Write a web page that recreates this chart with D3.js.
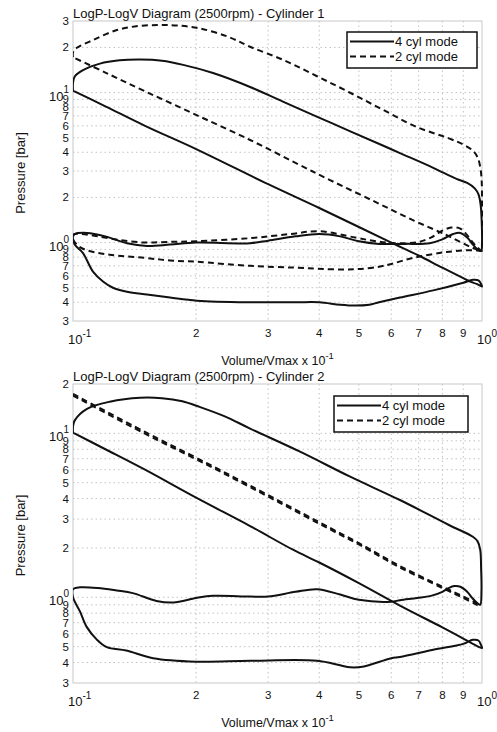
<!DOCTYPE html>
<html>
<head>
<meta charset="utf-8">
<title>LogP-LogV Diagram</title>
<script src="https://cdn.jsdelivr.net/npm/d3@7"></script>
<style>
body { margin: 0; background: #fff; }
svg text { font-family: "Liberation Sans", Arial, sans-serif; fill: #111; }
.grid line { stroke: #c2c2c2; stroke-width: 1; stroke-dasharray: 1.5,3; }
</style>
</head>
<body>
<svg id="chart" width="497" height="732"></svg>
<script>
// tick values (volume ratio and pressure in bar)
var xTicks = [0.1, 0.2, 0.3, 0.4, 0.5, 0.6, 0.7, 0.8, 0.9, 1];
var yTicksCyl1 = [0.3, 0.4, 0.5, 0.6, 0.7, 0.8, 0.9, 1, 2, 3, 4, 5, 6, 7, 8, 9, 10, 20, 30];
var yTicksCyl2 = [0.3, 0.4, 0.5, 0.6, 0.7, 0.8, 0.9, 1, 2, 3, 4, 5, 6, 7, 8, 9, 10, 20];

var seriesNames = ["4 cyl mode", "2 cyl mode"];

// cylinder 1, 4 cyl mode : [V/Vmax, P]
var cyl1Solid = [
  [0.1, 10.3], [0.1, 11.6], [0.101, 12.8], [0.1058, 14.1], [0.1164, 15.6], [0.13, 16.4], [0.146, 16.6],
  [0.165, 16.3], [0.186, 15.3], [0.22, 13.5], [0.271, 10.9], [0.326, 8.7], [0.432, 6.2], [0.574, 4.42],
  [0.63, 3.95], [0.76, 3.15], [0.866, 2.66], [0.92, 2.5], [0.96, 2.3], [0.98, 2.1], [0.992, 1.8],
  [0.998, 1.4], [1.0, 1.0], [0.995, 0.88],
  [0.975, 0.9], [0.95, 0.97], [0.92, 1.08], [0.885, 1.16], [0.85, 1.14], [0.8, 1.05], [0.745, 0.99],
  [0.65, 0.98], [0.56, 0.98], [0.5, 1.02], [0.45, 1.1], [0.4, 1.14], [0.35, 1.1], [0.3, 1.03],
  [0.271, 0.99], [0.2, 1.0], [0.1727, 0.97], [0.1516, 0.95], [0.1355, 0.99], [0.12, 1.1],
  [0.1082, 1.16], [0.101, 1.14],
  [0.1, 1.1], [0.101, 0.97], [0.1058, 0.85], [0.1119, 0.64], [0.1184, 0.55], [0.1252, 0.5],
  [0.1355, 0.47], [0.1516, 0.45], [0.1727, 0.43], [0.201, 0.41], [0.271, 0.4], [0.35, 0.4], [0.4, 0.4],
  [0.45, 0.385], [0.49, 0.38], [0.53, 0.385], [0.56, 0.4], [0.63, 0.43], [0.76, 0.48], [0.9, 0.54],
  [0.95, 0.565], [0.98, 0.56], [0.995, 0.53], [1.0, 0.51],
  [0.97, 0.53], [0.935, 0.55], [0.9, 0.58], [0.8, 0.68], [0.7, 0.82], [0.6, 1.0], [0.5, 1.27],
  [0.4, 1.7], [0.3, 2.45], [0.2, 4.2], [0.15, 6.0], [0.12, 8.1], [0.1, 10.3]
];

// cylinder 1, 2 cyl mode
var cyl1Dashed = [
  [0.1, 17.2], [0.1, 18.5], [0.102, 19.8], [0.112, 22.4], [0.128, 26.1], [0.145, 27.8], [0.163, 28.2],
  [0.18, 28.0], [0.204, 26.8], [0.24, 23.5], [0.271, 20.2], [0.327, 16.5], [0.394, 12.9], [0.476, 9.97],
  [0.574, 7.65], [0.69, 5.92], [0.83, 4.95], [0.9, 4.5], [0.95, 4.1], [0.975, 3.7], [0.99, 3.2],
  [0.998, 2.6], [1.0, 1.8], [1.0, 1.2], [1.0, 0.88],
  [0.975, 0.93], [0.95, 1.0], [0.92, 1.12], [0.885, 1.24], [0.84, 1.26], [0.8, 1.2], [0.75, 1.08],
  [0.7, 1.01], [0.62, 0.99], [0.55, 1.02], [0.49, 1.08], [0.4, 1.19], [0.34, 1.14], [0.271, 1.07],
  [0.2, 1.02], [0.17, 1.01], [0.15, 1.0], [0.13, 1.04], [0.115, 1.1], [0.105, 1.14], [0.1, 1.13],
  [0.1, 1.05], [0.103, 0.95], [0.108, 0.89], [0.123, 0.83], [0.15, 0.79], [0.1727, 0.76], [0.2, 0.745],
  [0.271, 0.7], [0.35, 0.68], [0.42, 0.665], [0.49, 0.664], [0.56, 0.69], [0.6, 0.72], [0.678, 0.79],
  [0.82, 0.865], [0.95, 0.89], [1.0, 0.88],
  [0.95, 0.92], [0.82, 1.12], [0.678, 1.41], [0.55, 1.86], [0.425, 2.61], [0.35, 3.4], [0.271, 4.83],
  [0.2, 7.1], [0.15, 10.2], [0.12, 13.6], [0.1, 17.2]
];

// cylinder 2, 4 cyl mode
var cyl2Solid = [
  [0.1, 10.1], [0.1, 11.0], [0.101, 12.0], [0.1082, 14.1], [0.123, 15.6], [0.146, 16.5], [0.165, 16.4],
  [0.185, 15.7], [0.204, 14.5], [0.235, 12.7], [0.271, 10.7], [0.359, 7.73], [0.476, 5.44], [0.63, 3.92],
  [0.83, 2.76], [0.95, 2.34], [0.975, 2.2], [0.99, 1.95], [0.995, 1.5], [0.997, 1.1], [0.99, 0.9],
  [0.975, 0.92], [0.95, 0.98], [0.92, 1.08], [0.885, 1.16], [0.855, 1.17], [0.83, 1.14], [0.8, 1.08],
  [0.75, 1.02], [0.694, 0.99], [0.63, 0.96], [0.6, 0.94], [0.5, 0.965], [0.45, 1.04], [0.395, 1.12],
  [0.35, 1.08], [0.3, 1.01], [0.271, 1.01], [0.22, 1.02], [0.2, 0.99], [0.176, 0.93], [0.16, 0.95],
  [0.14, 1.06], [0.128, 1.1], [0.115, 1.14], [0.104, 1.15], [0.1, 1.12],
  [0.1, 1.0], [0.104, 0.82], [0.108, 0.66], [0.1145, 0.55], [0.121, 0.496], [0.135, 0.473],
  [0.157, 0.425], [0.2, 0.405], [0.271, 0.41], [0.395, 0.41], [0.45, 0.385], [0.476, 0.374],
  [0.51, 0.377], [0.6, 0.425], [0.63, 0.432], [0.76, 0.478], [0.9, 0.52], [0.95, 0.55], [0.98, 0.545],
  [0.995, 0.51], [1.0, 0.49],
  [0.95, 0.52], [0.9, 0.56], [0.8, 0.655], [0.63, 0.89], [0.5, 1.22], [0.4, 1.63], [0.345, 1.95],
  [0.271, 2.72], [0.2, 4.05], [0.15, 6.0], [0.12, 8.0], [0.1, 10.1]
];

// cylinder 2, 2 cyl mode (deactivated: expansion and compression lie on top of each other)
var cyl2DashedExp = [
  [0.1, 17.4], [0.15, 10.2], [0.2, 7.1], [0.271, 4.8], [0.4, 2.87], [0.5, 2.14], [0.63, 1.55],
  [0.8, 1.16], [0.9, 1.01], [0.97, 0.92], [0.99, 0.88]
];
var cyl2DashedComp = [
  [0.1, 17.0], [0.15, 9.95], [0.2, 6.95], [0.271, 4.7], [0.4, 2.81], [0.5, 2.1], [0.63, 1.52],
  [0.8, 1.14], [0.9, 0.99], [0.97, 0.9], [0.99, 0.86]
];

var svg = d3.select("#chart");

var x = d3.scaleLog().domain([0.1, 1]).range([73, 482]);

var panels = [
  { title: "LogP-LogV Diagram (2500rpm) - Cylinder 1", top: 21, bottom: 321, yMax: 30, yTicks: yTicksCyl1,
    solid: [cyl1Solid], dashed: [cyl1Dashed], legend: { x: 347, y: 32, w: 130, h: 36 } },
  { title: "LogP-LogV Diagram (2500rpm) - Cylinder 2", top: 384, bottom: 683, yMax: 20, yTicks: yTicksCyl2,
    solid: [cyl2Solid], dashed: [cyl2DashedExp, cyl2DashedComp], legend: { x: 334, y: 396, w: 134, h: 36 } }
];

function tickParts(v) {
  var e = Math.floor(Math.log10(v) + 1e-9);
  var m = Math.round(v / Math.pow(10, e));
  return m === 1 ? { base: "10", exp: String(e) } : { base: String(m), exp: null };
}

panels.forEach(function (p, i) {
  var y = d3.scaleLog().domain([0.3, p.yMax]).range([p.bottom, p.top]);
  var g = svg.append("g");
  var left = x.range()[0], right = x.range()[1];

  // grid
  var grid = g.append("g").attr("class", "grid");
  grid.selectAll(".gx").data(xTicks.slice(1, -1)).enter().append("line")
    .attr("x1", function (d) { return x(d); }).attr("x2", function (d) { return x(d); })
    .attr("y1", p.top).attr("y2", p.bottom);
  grid.selectAll(".gy").data(p.yTicks.slice(1, -1)).enter().append("line")
    .attr("x1", left).attr("x2", right)
    .attr("y1", function (d) { return y(d); }).attr("y2", function (d) { return y(d); });

  g.append("rect")
    .attr("x", left).attr("y", p.top)
    .attr("width", right - left).attr("height", p.bottom - p.top)
    .attr("fill", "none").attr("stroke", "#c8c8c8");

  // y tick labels
  p.yTicks.forEach(function (v) {
    var t = tickParts(v);
    var txt = g.append("text").attr("text-anchor", "end").attr("x", 69);
    if (t.exp === null) {
      txt.attr("y", y(v) + 4).attr("font-size", 11.5).text(t.base);
    } else {
      txt.attr("y", y(v) + 8).attr("font-size", 13);
      txt.append("tspan").text(t.base);
      txt.append("tspan").attr("font-size", 10).attr("dy", -8).text(t.exp);
    }
  });

  // x tick labels
  xTicks.forEach(function (v) {
    var t = tickParts(v);
    if (t.exp === null) {
      g.append("text").attr("text-anchor", "middle")
        .attr("x", x(v)).attr("y", p.bottom + 16).attr("font-size", 11.5).text(t.base);
    } else {
      var txt = g.append("text").attr("text-anchor", "start")
        .attr("x", x(v) - 5).attr("y", p.bottom + 23).attr("font-size", 13);
      txt.append("tspan").text(t.base);
      txt.append("tspan").attr("font-size", 10).attr("dy", -7).text(t.exp);
    }
  });

  // curves
  var clipId = "clip" + i;
  svg.append("clipPath").attr("id", clipId).append("rect")
    .attr("x", left).attr("y", p.top - 1).attr("width", right - left + 1).attr("height", p.bottom - p.top + 2);

  var line = d3.line()
    .x(function (d) { return x(d[0]); })
    .y(function (d) { return y(d[1]); })
    .curve(d3.curveCatmullRom.alpha(0.5));

  var curves = g.append("g").attr("clip-path", "url(#" + clipId + ")");
  p.dashed.forEach(function (s) {
    curves.append("path").attr("d", line(s))
      .attr("fill", "none").attr("stroke", "#111").attr("stroke-width", 2)
      .attr("stroke-dasharray", "6,4");
  });
  p.solid.forEach(function (s) {
    curves.append("path").attr("d", line(s))
      .attr("fill", "none").attr("stroke", "#111").attr("stroke-width", 2);
  });

  // title and axis labels
  g.append("text").attr("x", left).attr("y", p.top - 3).attr("font-size", 13).text(p.title);

  var xl = g.append("text").attr("text-anchor", "middle")
    .attr("x", (left + right) / 2).attr("y", p.bottom + 44).attr("font-size", 12.5);
  xl.append("tspan").text("Volume/Vmax x 10");
  xl.append("tspan").attr("font-size", 9.5).attr("dy", -6).text("-1");

  g.append("text").attr("text-anchor", "middle").attr("font-size", 13)
    .attr("transform", "translate(25," + ((p.top + p.bottom) / 2 + 2) + ") rotate(-90)")
    .text("Pressure [bar]");

  // legend
  var L = p.legend;
  var lg = g.append("g").attr("transform", "translate(" + L.x + "," + L.y + ")");
  lg.append("rect").attr("width", L.w).attr("height", L.h)
    .attr("fill", "#fff").attr("stroke", "#111").attr("stroke-width", 1.5);
  seriesNames.forEach(function (name, k) {
    var ly = 9.5 + k * 15;
    lg.append("line").attr("x1", 3).attr("x2", 47).attr("y1", ly).attr("y2", ly)
      .attr("stroke", "#111").attr("stroke-width", 2)
      .attr("stroke-dasharray", k === 1 ? "6,4" : null);
    lg.append("text").attr("x", 48).attr("y", ly + 4.5).attr("font-size", 13).text(name);
  });
});
</script>
</body>
</html>
